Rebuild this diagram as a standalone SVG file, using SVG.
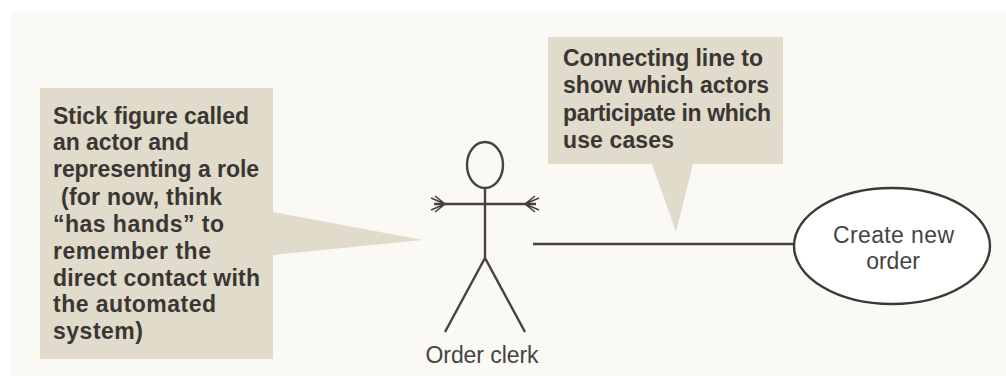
<svg xmlns="http://www.w3.org/2000/svg" width="1006" height="376" viewBox="0 0 1006 376">
  <style>
    .callout { fill: #e0dbca; }
    .note { font-family: "Liberation Sans", Arial, sans-serif; font-size: 23px; font-weight: 700; fill: #3a3633; }
    .label { font-family: "Liberation Sans", Arial, sans-serif; font-size: 23px; fill: #454443; text-anchor: middle; }
    .ink { fill: none; stroke: #45423f; stroke-width: 2.4; }
    .hand { fill: none; stroke: #45423f; stroke-width: 1.6; }
  </style>
  <rect x="0" y="0" width="1006" height="376" fill="#ffffff"/>
  <rect x="11" y="11" width="995" height="365" fill="#fbf9f3"/>
  <g id="note-actor">
    <path class="callout" d="M40 88H273V212L423 240L273 255V359H40Z"/>
    <text class="note" x="53" y="124" textLength="196">Stick figure called</text>
    <text class="note" x="53" y="150" textLength="136">an actor and</text>
    <text class="note" x="53" y="177" textLength="206">representing a role</text>
    <text class="note" x="61" y="205" textLength="161">(for now, think</text>
    <text class="note" x="53" y="232" textLength="171">“has hands” to</text>
    <text class="note" x="53" y="259" textLength="158">remember the</text>
    <text class="note" x="53" y="286" textLength="207">direct contact with</text>
    <text class="note" x="53" y="312" textLength="163">the automated</text>
    <text class="note" x="53" y="339" textLength="90">system)</text>
  </g>
  <g id="note-line">
    <path class="callout" d="M548 37H783V164H693L676 232L652 164H548Z"/>
    <text class="note" x="563" y="66" textLength="200">Connecting line to</text>
    <text class="note" x="563" y="93" textLength="206">show which actors</text>
    <text class="note" x="563" y="121" textLength="208">participate in which</text>
    <text class="note" x="563" y="148" textLength="111">use cases</text>
  </g>
  <g id="connectors">
    <line class="ink" x1="533" y1="244" x2="795" y2="244"/>
  </g>
  <g id="actor-order-clerk">
    <ellipse class="ink" cx="485" cy="165" rx="18" ry="23"/>
    <path class="ink" d="M485 188V258M445 332L485 258L525 332M434 204H536"/>
    <path class="hand" d="M431 198L445 204L431 210M435 196L445 204L435 212M539 198L525 204L539 210M535 196L525 204L535 212"/>
    <text class="label" x="482" y="363" textLength="113">Order clerk</text>
  </g>
  <g id="usecase-create-new-order">
    <ellipse cx="892" cy="246" rx="98" ry="58" fill="#ffffff" stroke="#3b3835" stroke-width="2.4"/>
    <text class="label" x="893.5" y="243" textLength="121">Create new</text>
    <text class="label" x="893" y="269">order</text>
  </g>
</svg>
